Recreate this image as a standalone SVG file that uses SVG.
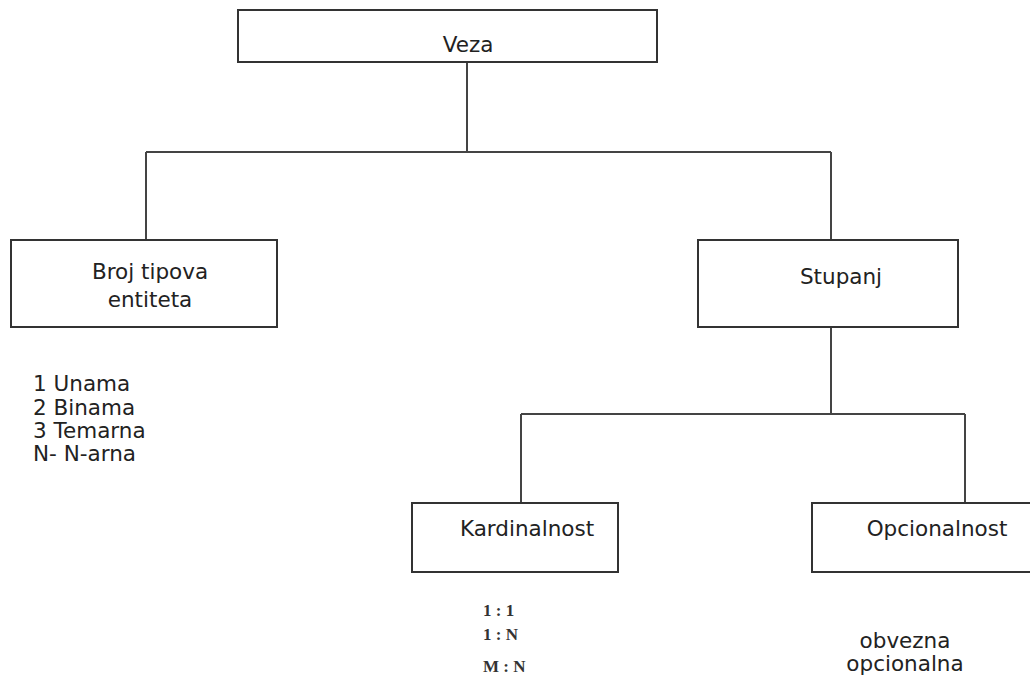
<svg xmlns="http://www.w3.org/2000/svg" width="1030" height="688" viewBox="0 0 1030 688">
<style>
.box{fill:#fff;stroke:#333;stroke-width:2}
.ln{fill:none;stroke:#444;stroke-width:2}
.t{font-family:"DejaVu Sans",sans-serif;font-size:21.5px;fill:#222}
.s{font-family:"Liberation Serif",serif;font-size:17px;font-weight:bold;fill:#333}
</style>
<rect width="1030" height="688" fill="#fff"/>
<g id="connectors">
<path class="ln" d="M467,62 V152 M146,152 H831 M146,152 V240 M831,152 V240"/>
<path class="ln" d="M831,327 V414 M521,414 H965 M521,414 V503 M965,414 V503"/>
</g>
<g id="veza">
<rect class="box" x="238" y="10" width="419" height="52"/>
<text class="t" x="468" y="52" text-anchor="middle">Veza</text>
</g>
<g id="broj">
<rect class="box" x="11" y="240" width="266" height="87"/>
<text class="t" x="150" y="279" text-anchor="middle">Broj tipova</text>
<text class="t" x="150" y="307" text-anchor="middle">entiteta</text>
</g>
<g id="broj-list">
<text class="t" x="33" y="391">1 Unama</text>
<text class="t" x="33" y="415">2 Binama</text>
<text class="t" x="33" y="438">3 Temarna</text>
<text class="t" x="33" y="461">N- N-arna</text>
</g>
<g id="stupanj">
<rect class="box" x="698" y="240" width="260" height="87"/>
<text class="t" x="841" y="284" text-anchor="middle">Stupanj</text>
</g>
<g id="kardinalnost">
<rect class="box" x="412" y="503" width="206" height="69"/>
<text class="t" x="527" y="536" text-anchor="middle">Kardinalnost</text>
</g>
<g id="kard-list">
<text class="s" x="483" y="616">1 : 1</text>
<text class="s" x="483" y="640">1 : N</text>
<text class="s" x="483" y="672">M : N</text>
</g>
<g id="opcionalnost">
<rect class="box" x="812" y="503" width="230" height="69"/>
<text class="t" x="937" y="536" text-anchor="middle">Opcionalnost</text>
</g>
<g id="opc-list">
<text class="t" x="905" y="648" text-anchor="middle">obvezna</text>
<text class="t" x="905" y="671" text-anchor="middle">opcionalna</text>
</g>
</svg>
